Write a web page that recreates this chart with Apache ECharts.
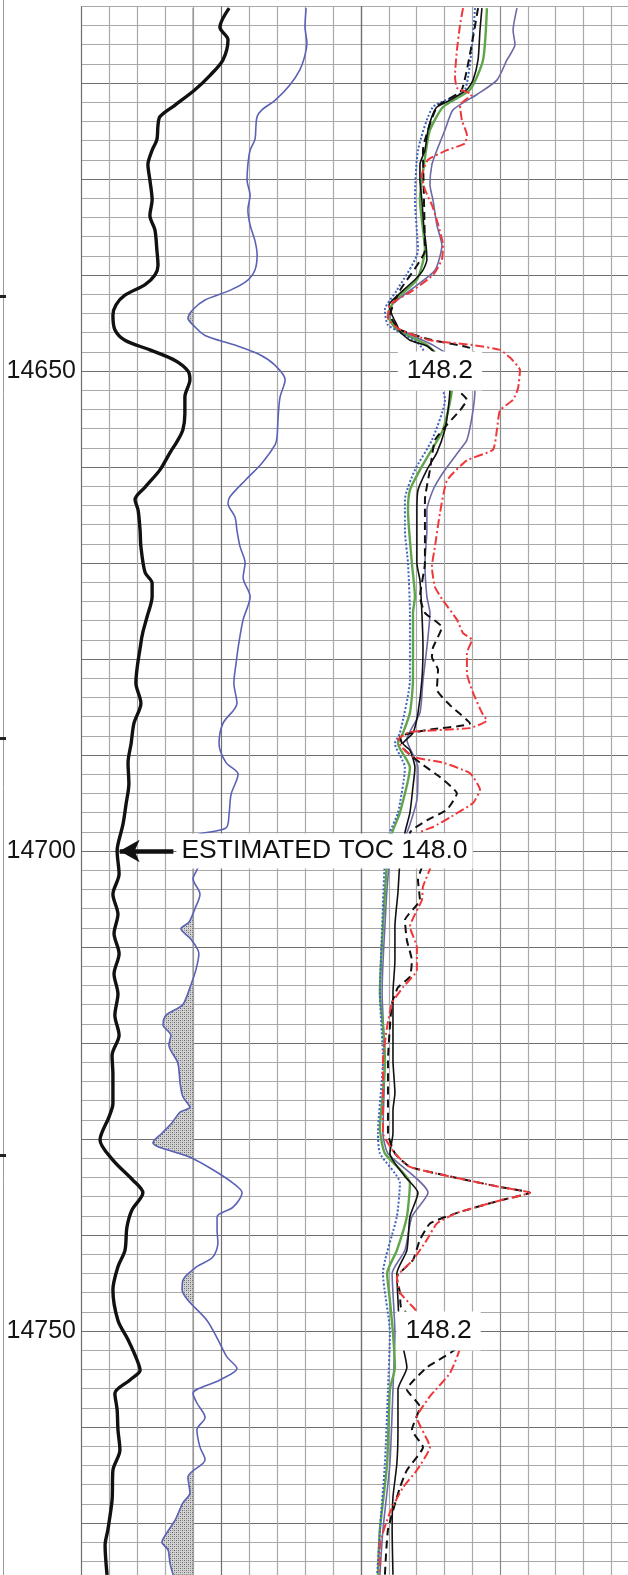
<!DOCTYPE html>
<html>
<head>
<meta charset="utf-8">
<script src="https://cdn.jsdelivr.net/npm/echarts/dist/echarts.min.js"></script>
<style>
  html, body { margin: 0; padding: 0; background: #fff; }
  #main { width: 628px; height: 1575px; }
</style>
</head>
<body>
<div id="main"></div>
<script>
// depth window and labels
const depthMin = 14612;
const depthMax = 14776;
const depthLabels = [14650, 14700, 14750];

// track 1: [depth, value 0-100]
const gammaRay = [[14612.2,52.9],[14614.2,49.6],[14615.5,52.5],[14617.6,50.7],[14619.2,46.1],[14620.7,40.7],[14622.3,33.6],[14623.5,28.2],[14624.4,27.5],[14625.9,27.1],[14627.0,25.4],[14628.5,23.9],[14630.1,24.6],[14632.2,25.4],[14633.8,24.6],[14635.3,26.4],[14637.4,27.1],[14639.0,27.5],[14640.0,26.4],[14641.0,22.9],[14642.1,15.7],[14643.1,12.5],[14644.2,11.4],[14645.7,12.1],[14646.8,15.7],[14647.8,24.6],[14648.9,33.6],[14650.0,38.2],[14650.9,38.9],[14652.7,37.1],[14654.4,37.1],[14656.1,36.4],[14657.2,34.6],[14658.5,31.8],[14660.3,28.2],[14662.1,22.9],[14663.4,19.3],[14664.5,20.4],[14666.6,21.1],[14668.3,21.4],[14671.0,22.9],[14672.1,25.4],[14673.5,25.4],[14675.6,23.6],[14677.2,22.1],[14678.3,21.4],[14682.5,19.6],[14684.6,21.4],[14686.7,18.9],[14688.8,17.9],[14690.8,16.8],[14693.0,17.1],[14695.1,16.1],[14697.2,15.0],[14699.3,13.2],[14700.0,12.9],[14702.4,13.6],[14704.5,11.4],[14706.6,13.2],[14708.6,11.8],[14710.7,13.6],[14712.8,11.8],[14714.9,13.2],[14717.1,12.1],[14719.2,13.6],[14721.3,11.1],[14723.3,11.4],[14726.3,11.4],[14727.7,10.0],[14730.1,6.8],[14732.2,11.4],[14734.3,18.6],[14735.6,22.1],[14737.4,18.2],[14739.2,16.4],[14741.6,15.7],[14743.3,13.2],[14745.7,11.4],[14748.9,13.2],[14750.9,16.8],[14753.0,20.0],[14754.1,21.1],[14755.1,17.5],[14756.5,12.1],[14758.2,12.9],[14760.3,13.2],[14762.4,13.9],[14764.5,11.4],[14767.6,11.1],[14770.7,9.6],[14772.3,8.6],[14775.4,9.3]];

const deepCurve = [[14612.2,80.4],[14614.2,80.0],[14615.8,80.7],[14617.1,80.0],[14618.6,78.2],[14620.2,74.6],[14621.8,69.3],[14622.8,64.6],[14623.5,62.9],[14624.4,62.5],[14625.9,62.1],[14627.0,60.4],[14628.5,59.6],[14630.1,59.3],[14631.7,60.4],[14633.2,59.6],[14634.8,60.4],[14636.4,62.1],[14637.9,62.9],[14639.5,62.1],[14640.7,58.9],[14641.6,53.2],[14642.6,44.3],[14643.6,40.0],[14644.5,38.2],[14645.2,40.0],[14646.3,44.3],[14647.3,55.0],[14648.3,63.9],[14649.4,69.3],[14650.9,72.9],[14652.7,71.1],[14654.8,70.4],[14656.9,70.0],[14657.7,69.3],[14659.6,64.6],[14661.4,58.6],[14663.1,53.2],[14663.8,52.5],[14665.2,55.0],[14666.6,55.7],[14668.3,56.8],[14670.0,58.6],[14671.5,57.9],[14673.5,60.4],[14675.9,57.9],[14678.3,56.4],[14680.4,55.4],[14682.5,54.6],[14684.6,55.7],[14686.7,50.7],[14688.8,49.3],[14690.8,51.8],[14692.0,56.1],[14694.1,53.6],[14696.1,52.9],[14697.6,51.8],[14698.6,40.7],[14701.6,41.8],[14702.9,40.0],[14704.5,42.5],[14706.0,40.7],[14707.4,38.6],[14708.1,35.7],[14709.2,39.3],[14710.7,42.1],[14712.3,41.1],[14713.9,39.3],[14716.0,36.4],[14717.1,30.4],[14718.1,29.3],[14719.2,32.1],[14720.2,31.4],[14722.1,34.6],[14724.2,35.4],[14725.6,36.4],[14726.7,38.9],[14727.2,35.4],[14728.3,32.5],[14729.4,28.9],[14730.4,25.7],[14730.8,27.5],[14731.9,38.9],[14733.2,47.1],[14734.6,54.3],[14735.6,57.5],[14737.1,54.3],[14738.1,48.6],[14739.5,48.6],[14740.8,48.9],[14742.3,47.1],[14743.3,41.4],[14744.7,36.4],[14745.7,36.1],[14746.8,38.2],[14748.9,45.0],[14750.9,48.9],[14752.7,52.1],[14753.9,55.7],[14755.1,49.6],[14756.5,40.0],[14757.5,41.4],[14759.0,44.3],[14760.3,41.4],[14762.1,42.5],[14763.4,44.3],[14765.2,38.2],[14766.9,38.9],[14767.9,36.4],[14769.7,33.6],[14771.0,30.7],[14772.0,28.9],[14772.8,31.1],[14774.2,31.8],[14775.4,32.9]];
const fillCutoff = 40;

// track 2: [depth, value 0-100]
const t2Black = [[14612.2,43.5],[14614.5,42.8],[14617.6,42.1],[14619.7,40.3],[14620.7,38.1],[14621.8,32.0],[14622.5,27.3],[14623.5,25.5],[14624.9,24.1],[14627.0,23.0],[14628.5,21.2],[14630.1,21.2],[14632.2,21.9],[14633.8,22.3],[14635.3,22.7],[14636.9,23.4],[14638.4,23.7],[14639.5,22.3],[14640.5,19.4],[14641.9,14.0],[14643.1,10.1],[14644.2,11.2],[14645.2,12.9],[14645.9,14.0],[14646.8,17.6],[14647.4,23.7],[14648.6,28.4],[14649.9,31.3],[14651.8,32.0],[14654.1,31.3],[14656.1,30.2],[14658.5,27.3],[14660.3,23.7],[14662.4,20.5],[14664.5,20.1],[14666.6,20.1],[14670.0,20.1],[14671.8,21.2],[14675.2,21.9],[14678.8,22.3],[14682.2,21.9],[14685.6,20.5],[14687.7,18.7],[14688.8,15.1],[14689.5,17.6],[14691.3,19.4],[14693.3,18.7],[14696.0,17.6],[14698.1,15.8],[14699.9,15.1],[14701.2,14.0],[14704.3,13.3],[14707.9,12.2],[14711.4,12.2],[14714.8,11.5],[14718.3,11.5],[14721.8,11.5],[14725.2,12.2],[14727.0,11.5],[14729.4,11.5],[14731.5,10.4],[14733.9,15.8],[14735.6,20.5],[14738.1,17.6],[14741.6,16.5],[14744.0,12.9],[14746.8,13.3],[14750.2,14.0],[14753.8,16.5],[14756.1,13.3],[14760.3,13.3],[14763.8,12.9],[14767.3,11.5],[14770.7,11.2],[14775.4,11.5]];
const t2Green = [[14612.2,45.3],[14617.6,43.9],[14620.7,39.2],[14622.5,29.5],[14624.9,24.8],[14627.0,23.4],[14632.2,21.2],[14637.4,23.0],[14640.5,20.1],[14642.6,12.2],[14644.2,9.7],[14645.7,12.9],[14647.3,23.7],[14649.9,32.0],[14651.8,32.7],[14656.1,29.5],[14658.5,24.8],[14660.3,21.2],[14662.4,17.6],[14664.5,16.9],[14670.0,18.3],[14673.5,19.4],[14675.2,18.7],[14682.2,18.7],[14685.6,17.6],[14687.7,15.1],[14688.8,13.3],[14691.3,17.6],[14696.0,14.0],[14698.1,11.2],[14701.2,9.4],[14707.9,7.9],[14714.8,6.8],[14718.3,7.9],[14721.8,8.6],[14725.2,7.9],[14728.8,6.8],[14731.5,8.6],[14734.6,17.6],[14738.1,16.5],[14741.6,12.9],[14744.0,9.4],[14746.8,10.4],[14750.2,11.5],[14753.8,12.2],[14756.1,10.4],[14763.8,9.4],[14770.7,6.8],[14775.4,6.1]];
const t2BlueDot = [[14612.2,41.0],[14620.7,37.4],[14622.5,25.9],[14627.0,20.5],[14632.2,19.4],[14637.4,20.5],[14641.6,12.9],[14643.6,8.6],[14645.2,9.7],[14647.3,21.2],[14653.0,30.2],[14657.2,25.5],[14660.3,19.4],[14663.4,15.8],[14666.6,15.8],[14670.0,16.9],[14675.2,17.6],[14682.2,17.6],[14687.7,14.0],[14688.8,12.2],[14691.3,15.8],[14696.0,13.3],[14698.1,10.4],[14701.2,8.6],[14707.9,7.6],[14714.8,6.8],[14721.8,7.9],[14729.4,6.1],[14731.5,6.8],[14734.6,14.0],[14738.1,12.9],[14744.0,7.9],[14750.2,10.4],[14756.1,9.7],[14763.8,8.6],[14770.7,6.8],[14775.4,5.8]];
const t2Violet = [[14612.2,56.1],[14614.5,54.7],[14616.0,55.4],[14617.6,52.5],[14619.7,48.9],[14621.2,41.7],[14622.8,33.1],[14624.9,30.2],[14627.0,27.3],[14628.5,25.5],[14630.6,24.8],[14632.2,25.9],[14634.8,27.3],[14636.9,29.1],[14639.5,26.6],[14641.6,17.6],[14643.1,11.2],[14644.7,10.4],[14645.7,14.0],[14647.3,25.9],[14649.9,39.2],[14651.8,41.0],[14654.1,40.3],[14657.2,38.1],[14658.2,35.6],[14660.6,29.5],[14662.4,25.9],[14664.5,23.7],[14666.6,23.7],[14670.0,23.0],[14673.5,23.7],[14675.2,24.8],[14678.8,23.7],[14682.2,22.3],[14685.6,21.2],[14688.4,16.5],[14691.3,20.5],[14694.7,20.1],[14698.1,16.5],[14701.2,10.4],[14707.9,8.6],[14714.8,7.6],[14721.8,8.6],[14729.4,7.9],[14731.5,9.7],[14735.6,24.1],[14738.1,18.3],[14741.6,15.8],[14744.0,11.2],[14750.2,12.2],[14756.1,11.5],[14763.8,10.4],[14770.7,7.9],[14775.4,6.8]];
const t2BlackDash = [[14612.2,42.1],[14620.7,36.3],[14622.5,27.3],[14627.0,22.3],[14637.4,23.0],[14641.6,14.0],[14644.2,10.4],[14645.7,14.0],[14646.8,25.9],[14647.6,39.2],[14648.9,42.1],[14651.8,34.5],[14653.0,38.1],[14654.1,35.6],[14655.6,30.9],[14657.2,26.6],[14660.3,24.8],[14663.4,23.0],[14670.0,23.0],[14673.5,21.2],[14675.2,23.0],[14676.7,29.1],[14678.8,25.9],[14679.8,25.5],[14681.1,27.7],[14683.2,27.3],[14684.8,32.0],[14686.7,39.2],[14687.4,23.7],[14688.1,14.0],[14689.5,15.8],[14690.8,21.2],[14692.3,28.4],[14694.0,34.5],[14695.7,30.9],[14696.8,23.7],[14698.1,17.6],[14701.2,22.3],[14703.0,20.5],[14705.1,21.2],[14707.2,15.8],[14709.3,16.5],[14711.4,18.3],[14713.1,17.6],[14714.2,13.3],[14715.8,11.2],[14718.3,10.4],[14721.8,9.7],[14729.4,9.7],[14731.5,12.2],[14732.9,17.6],[14733.9,32.0],[14735.0,50.0],[14735.6,60.8],[14736.4,50.0],[14737.7,34.5],[14738.8,24.8],[14740.5,21.2],[14742.6,18.7],[14744.4,12.9],[14746.0,14.0],[14747.5,14.4],[14748.9,19.4],[14751.7,34.5],[14753.8,23.7],[14756.1,16.5],[14757.9,21.2],[14760.3,18.3],[14762.1,22.3],[14764.5,16.5],[14766.3,14.0],[14770.7,9.7],[14775.4,8.6]];
const t2Red = [[14612.2,36.7],[14614.0,35.6],[14616.6,34.5],[14619.2,33.8],[14620.5,34.5],[14621.2,39.9],[14622.3,35.6],[14623.9,36.3],[14625.4,38.1],[14626.3,37.4],[14627.0,30.9],[14628.0,24.1],[14629.6,21.9],[14631.1,23.0],[14632.7,25.5],[14634.3,27.3],[14636.9,29.5],[14638.4,29.1],[14640.0,25.9],[14641.6,18.7],[14643.1,10.4],[14644.5,9.7],[14645.7,14.0],[14646.8,24.8],[14647.3,40.3],[14647.8,50.0],[14648.6,53.6],[14649.9,57.2],[14651.8,56.5],[14653.0,54.7],[14654.1,50.0],[14656.1,48.9],[14658.2,47.5],[14659.3,38.1],[14661.4,30.9],[14664.8,28.4],[14668.3,26.6],[14670.4,25.5],[14672.5,26.6],[14673.9,29.5],[14675.9,34.5],[14677.3,36.7],[14678.0,39.9],[14679.4,38.1],[14681.5,38.1],[14683.5,40.3],[14685.6,43.5],[14686.4,45.3],[14687.2,39.2],[14687.6,17.6],[14688.4,13.3],[14689.2,14.7],[14690.2,18.7],[14690.8,29.5],[14691.9,39.2],[14693.6,42.8],[14695.0,40.3],[14696.5,32.0],[14697.5,25.9],[14698.1,21.2],[14701.2,25.5],[14703.7,22.3],[14705.1,21.9],[14707.9,17.6],[14710.0,20.1],[14712.4,20.1],[14714.2,15.1],[14715.8,11.2],[14718.3,9.4],[14721.8,7.9],[14729.4,7.9],[14731.5,12.2],[14732.9,17.6],[14733.9,32.0],[14735.0,50.0],[14735.6,60.8],[14736.4,50.0],[14737.7,34.5],[14738.8,27.3],[14740.5,23.7],[14742.6,18.7],[14744.4,12.9],[14746.0,14.0],[14747.5,18.7],[14748.9,23.0],[14751.7,35.6],[14754.4,32.0],[14756.8,24.8],[14759.0,20.1],[14762.1,24.8],[14764.5,20.1],[14766.3,15.1],[14768.9,10.4],[14772.3,6.8],[14775.4,6.8]];

// annotations
const tocDepth = 14700;
const tocText = 'ESTIMATED TOC 148.0';
const shiftDepths = [14650, 14750];
const shiftTexts = ['148.2', '148.2'];

const FONT = '"Liberation Sans", Arial, sans-serif';
const MINOR = '#a9a9a9';
const MAJOR = '#6f6f6f';

let chart = echarts.init(document.getElementById('main'), null, { renderer: 'canvas' });

// stipple used for the shaded part of the track 1 curve
let stipple = (function () {
  let c = document.createElement('canvas');
  c.width = 4; c.height = 4;
  let g = c.getContext('2d');
  g.fillStyle = '#d2d2d2'; g.fillRect(0, 0, 4, 4);
  g.fillStyle = '#666'; g.fillRect(0, 0, 1, 1); g.fillRect(2, 2, 1, 1);
  g.fillStyle = '#999'; g.fillRect(2, 0, 1, 1); g.fillRect(0, 2, 1, 1);
  return c;
})();

// outline of the area left of the cutoff
function clipOutline(points, cut) {
  let out = [];
  for (let i = 0; i < points.length; i++) {
    let d = points[i][0], v = points[i][1];
    if (i > 0) {
      let d0 = points[i - 1][0], v0 = points[i - 1][1];
      if ((v0 - cut) * (v - cut) < 0) {
        let t = (cut - v0) / (v - v0);
        out.push([cut, d0 + t * (d - d0)]);
      }
    }
    out.push([Math.min(v, cut), d]);
  }
  out.push([cut, points[points.length - 1][0]]);
  out.push([cut, points[0][0]]);
  return out;
}
let fillOutline = clipOutline(deepCurve, fillCutoff);

function depthAxis(idx, labels) {
  return {
    type: 'value', gridIndex: idx, inverse: true,
    min: depthMin, max: depthMax, interval: 2,
    axisLine: { show: false }, axisTick: { show: false },
    axisLabel: {
      show: labels, margin: 5, fontSize: 25, color: '#151515', fontFamily: FONT,
      formatter: v => depthLabels.indexOf(v) >= 0 ? String(v) : ''
    },
    splitLine: { show: true, lineStyle: { width: 1.2, color: [MINOR, MINOR, MINOR, MINOR, MAJOR] } }
  };
}

function trackAxis(idx, colors) {
  return {
    type: 'value', gridIndex: idx, min: 0, max: 100, interval: 10,
    axisLine: { show: false }, axisTick: { show: false }, axisLabel: { show: false },
    splitLine: { show: true, lineStyle: { width: 1.2, color: colors } }
  };
}

function curve(pts, idx, color, width, type, smooth) {
  return {
    type: 'line', xAxisIndex: idx, yAxisIndex: idx,
    data: pts.map(p => [p[1], p[0]]),
    symbol: 'none', showSymbol: false, smooth: smooth, silent: true, z: 2,
    lineStyle: { color: color, width: width, type: type, join: 'round' }
  };
}

let labelStyle = {
  show: true, fontSize: 26.5, fontFamily: FONT, color: '#111', opacity: 1,
  backgroundColor: '#fff', borderWidth: 0, textBorderWidth: 0, textShadowBlur: 0
};

let option = {
  animation: false,
  backgroundColor: '#fff',
  grid: [
    { left: 81, top: 6.2, width: 280, height: 1574.4, containLabel: false, outerBoundsMode: 'none' },
    { left: 361, top: 6.2, width: 278, height: 1574.4, containLabel: false, outerBoundsMode: 'none' }
  ],
  xAxis: [
    trackAxis(0, [MAJOR, MINOR, MINOR, MINOR, MINOR, MAJOR, MINOR, MINOR, MINOR, MINOR, MAJOR]),
    trackAxis(1, [MAJOR, MINOR, MINOR, MINOR, MINOR, '#8a8a8a', MINOR, MINOR, MINOR, MINOR, MAJOR])
  ],
  yAxis: [depthAxis(0, true), depthAxis(1, false)],
  graphic: [
    { type: 'line', shape: { x1: 3.5, y1: 0, x2: 3.5, y2: 1575 }, style: { stroke: '#9a9a9a', lineWidth: 1 } },
    { type: 'rect', shape: { x: 0, y: 295, width: 6, height: 3 }, style: { fill: '#222' } },
    { type: 'rect', shape: { x: 0, y: 737, width: 6, height: 3 }, style: { fill: '#222' } },
    { type: 'rect', shape: { x: 0, y: 1154, width: 6, height: 3 }, style: { fill: '#222' } }
  ],
  series: [
    {
      type: 'custom', xAxisIndex: 0, yAxisIndex: 0, z: 1, silent: true,
      data: [[fillCutoff, depthMin]],
      renderItem: function (params, api) {
        return {
          type: 'polygon',
          shape: { points: fillOutline.map(p => api.coord(p)) },
          style: { fill: { image: stipple, repeat: 'repeat' }, stroke: '#8a8a8a', lineWidth: 0.6 }
        };
      }
    },
    curve(deepCurve, 0, '#5a62b6', 1.6, 'solid', 0.3),
    curve(gammaRay, 0, '#111', 3.4, 'solid', 0.3),
    curve(t2Violet, 1, '#6c6aa6', 1.6, 'solid', 0.2),
    curve(t2Green, 1, '#5fa64a', 2.4, 'solid', 0.2),
    curve(t2BlueDot, 1, '#3f62c4', 2, [2, 2], 0.2),
    curve(t2Black, 1, '#111', 1.6, 'solid', 0.2),
    curve(t2BlackDash, 1, '#111', 2, [8, 5], 0.15),
    curve(t2Red, 1, '#f0383a', 2, [9, 3, 2, 3], 0.15),
    {
      type: 'scatter', xAxisIndex: 0, yAxisIndex: 0, z: 10, silent: true,
      symbolSize: 1, itemStyle: { color: 'rgba(0,0,0,0)', opacity: 1 },
      data: [[33.9, tocDepth]],
      label: Object.assign({}, labelStyle, { position: 'right', distance: 0, padding: [4, 5], formatter: tocText }),
      markLine: {
        silent: true, symbol: ['none', 'arrow'], symbolSize: [17, 20],
        lineStyle: { color: '#111', width: 4.5, type: 'solid', opacity: 1 },
        label: { show: false },
        data: [[{ coord: [33, tocDepth] }, { coord: [13.8, tocDepth] }]]
      }
    },
    {
      type: 'scatter', xAxisIndex: 1, yAxisIndex: 1, z: 10, silent: true,
      symbolSize: 1, itemStyle: { color: 'rgba(0,0,0,0)', opacity: 1 },
      data: [[28.4, shiftDepths[0]], [27.9, shiftDepths[1]]],
      label: Object.assign({}, labelStyle, {
        position: 'inside', padding: [6, 9],
        formatter: p => shiftTexts[p.dataIndex]
      })
    }
  ]
};

chart.setOption(option);
</script>
</body>
</html>
